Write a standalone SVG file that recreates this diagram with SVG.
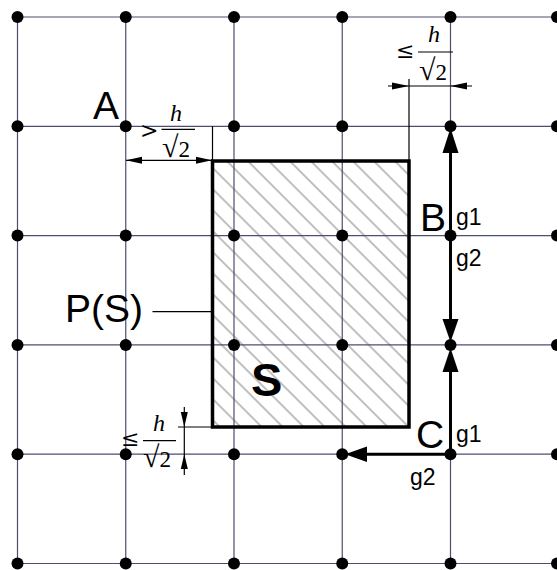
<svg xmlns="http://www.w3.org/2000/svg" width="557" height="570" viewBox="0 0 557 570">
<style>
.grid{stroke:#4e4e70;stroke-width:1.2;fill:none}
.dot{fill:#000}
.thin{stroke:#000;stroke-width:1.2;fill:none}
.thick{stroke:#000;stroke-width:3;fill:none}
.head{fill:#000}
.lbl{font-family:"Liberation Sans",Arial,sans-serif;font-size:39px;fill:#000}
.g{font-family:"Liberation Sans",Arial,sans-serif;font-size:23px;fill:#000}
.m{font-family:"DejaVu Serif","Liberation Serif",serif;font-size:22px;fill:#000}
.rt{font-family:"Liberation Serif","Times New Roman",serif;font-size:23px;fill:#000}
.mi{font-family:"Liberation Serif","Times New Roman",serif;font-size:24px;font-style:italic;fill:#000}
</style>
<defs>
<pattern id="hatch" patternUnits="userSpaceOnUse" width="14.85" height="14.85" patternTransform="rotate(-45)">
<line x1="2" y1="-1" x2="2" y2="16" stroke="#555" stroke-width="0.75"/>
</pattern>
</defs>
<rect width="557" height="570" fill="#fff"/>
<g id="hatching">
<rect x="212.5" y="161" width="196.5" height="266" fill="url(#hatch)"/>
</g>
<g id="grid">
<line class="grid" x1="17.5" y1="17" x2="557" y2="17"/>
<line class="grid" x1="17.5" y1="126.3" x2="557" y2="126.3"/>
<line class="grid" x1="17.5" y1="235.6" x2="557" y2="235.6"/>
<line class="grid" x1="17.5" y1="344.9" x2="557" y2="344.9"/>
<line class="grid" x1="17.5" y1="454.2" x2="557" y2="454.2"/>
<line class="grid" x1="17.5" y1="563.5" x2="557" y2="563.5"/>
<line class="grid" x1="17.5" y1="17" x2="17.5" y2="563.5"/>
<line class="grid" x1="125.75" y1="17" x2="125.75" y2="563.5"/>
<line class="grid" x1="234" y1="17" x2="234" y2="563.5"/>
<line class="grid" x1="342.25" y1="17" x2="342.25" y2="563.5"/>
<line class="grid" x1="450.5" y1="17" x2="450.5" y2="563.5"/>
</g>
<g id="S">
<rect x="212.5" y="161" width="196.5" height="266" fill="none" stroke="#000" stroke-width="3.5"/>
<text x="251" y="396" style="font-family:'Liberation Sans',Arial,sans-serif;font-size:47px;font-weight:bold">S</text>
</g>
<g id="dots">
<circle class="dot" cx="17.5" cy="17" r="6"/><circle class="dot" cx="125.75" cy="17" r="6"/><circle class="dot" cx="234" cy="17" r="6"/><circle class="dot" cx="342.25" cy="17" r="6"/><circle class="dot" cx="450.5" cy="17" r="6"/><circle class="dot" cx="557" cy="17" r="6"/>
<circle class="dot" cx="17.5" cy="126.3" r="6"/><circle class="dot" cx="125.75" cy="126.3" r="6"/><circle class="dot" cx="234" cy="126.3" r="6"/><circle class="dot" cx="342.25" cy="126.3" r="6"/><circle class="dot" cx="450.5" cy="126.3" r="6"/><circle class="dot" cx="557" cy="126.3" r="6"/>
<circle class="dot" cx="17.5" cy="235.6" r="6"/><circle class="dot" cx="125.75" cy="235.6" r="6"/><circle class="dot" cx="234" cy="235.6" r="6"/><circle class="dot" cx="342.25" cy="235.6" r="6"/><circle class="dot" cx="450.5" cy="235.6" r="6"/><circle class="dot" cx="557" cy="235.6" r="6"/>
<circle class="dot" cx="17.5" cy="344.9" r="6"/><circle class="dot" cx="125.75" cy="344.9" r="6"/><circle class="dot" cx="234" cy="344.9" r="6"/><circle class="dot" cx="342.25" cy="344.9" r="6"/><circle class="dot" cx="450.5" cy="344.9" r="6"/><circle class="dot" cx="557" cy="344.9" r="6"/>
<circle class="dot" cx="17.5" cy="454.2" r="6"/><circle class="dot" cx="125.75" cy="454.2" r="6"/><circle class="dot" cx="234" cy="454.2" r="6"/><circle class="dot" cx="342.25" cy="454.2" r="6"/><circle class="dot" cx="450.5" cy="454.2" r="6"/><circle class="dot" cx="557" cy="454.2" r="6"/>
<circle class="dot" cx="17.5" cy="563.5" r="6"/><circle class="dot" cx="125.75" cy="563.5" r="6"/><circle class="dot" cx="234" cy="563.5" r="6"/><circle class="dot" cx="342.25" cy="563.5" r="6"/><circle class="dot" cx="450.5" cy="563.5" r="6"/><circle class="dot" cx="557" cy="563.5" r="6"/>
</g>
<g id="connectors">
<line class="thick" x1="450.5" y1="235.6" x2="450.5" y2="150"/>
<polygon class="head" points="450.5,128 442.5,153 458.5,153"/>
<line class="thick" x1="450.5" y1="235.6" x2="450.5" y2="322"/>
<polygon class="head" points="450.5,342 442.5,319 458.5,319"/>
<line class="thick" x1="450.5" y1="454.2" x2="450.5" y2="369"/>
<polygon class="head" points="450.5,348 442.5,372 458.5,372"/>
<line class="thick" x1="450.5" y1="454.2" x2="364" y2="454.2"/>
<polygon class="head" points="345,454.2 367,446.5 367,462"/>
<line class="thin" x1="152.5" y1="311.7" x2="212.5" y2="311.7"/>
</g>
<g id="dim-top-left">
<line class="thin" x1="212.5" y1="126.3" x2="212.5" y2="161"/>
<line class="thin" x1="126" y1="160.3" x2="212" y2="160.3"/>
<polygon class="head" points="126,160.3 142,156.8 142,163.8"/>
<polygon class="head" points="212,160.3 196,156.8 196,163.8"/>
<text class="m" x="140" y="138">&gt;</text>
<text class="mi" x="170" y="121">h</text>
<line class="thin" x1="161.5" y1="129.3" x2="195" y2="129.3"/>
<text class="rt" x="162" y="157"><tspan font-size="30">√</tspan>2</text>
</g>
<g id="dim-top-right">
<line class="thin" x1="409" y1="79" x2="409" y2="161"/>
<line class="thin" x1="388" y1="86" x2="472" y2="86"/>
<polygon class="head" points="409,86 392,82.5 392,89.5"/>
<polygon class="head" points="450.5,86 467,82.5 467,89.5"/>
<text class="m" x="396" y="58">≤</text>
<text class="mi" x="428" y="42">h</text>
<line class="thin" x1="418" y1="52" x2="453" y2="52"/>
<text class="rt" x="419" y="80"><tspan font-size="30">√</tspan>2</text>
</g>
<g id="dim-bottom-left">
<line class="thin" x1="178" y1="427" x2="212.5" y2="427"/>
<line class="thin" x1="184.3" y1="407" x2="184.3" y2="475"/>
<polygon class="head" points="184.3,427 180.8,412 187.8,412"/>
<polygon class="head" points="184.3,454.2 180.8,469 187.8,469"/>
<text class="m" x="121" y="446">≤</text>
<text class="mi" x="153" y="430.5">h</text>
<line class="thin" x1="143" y1="440.7" x2="176" y2="440.7"/>
<text class="rt" x="143" y="466.5"><tspan font-size="30">√</tspan>2</text>
</g>
<g id="labels">
<text class="lbl" x="93" y="119">A</text>
<text class="lbl" x="420" y="230.7">B</text>
<text class="lbl" x="416" y="448">C</text>
<text class="lbl" x="65" y="321.7">P(S)</text>
<text class="g" x="456" y="225">g1</text>
<text class="g" x="456" y="266">g2</text>
<text class="g" x="456" y="441.7">g1</text>
<text class="g" x="410" y="485">g2</text>
</g>
</svg>
